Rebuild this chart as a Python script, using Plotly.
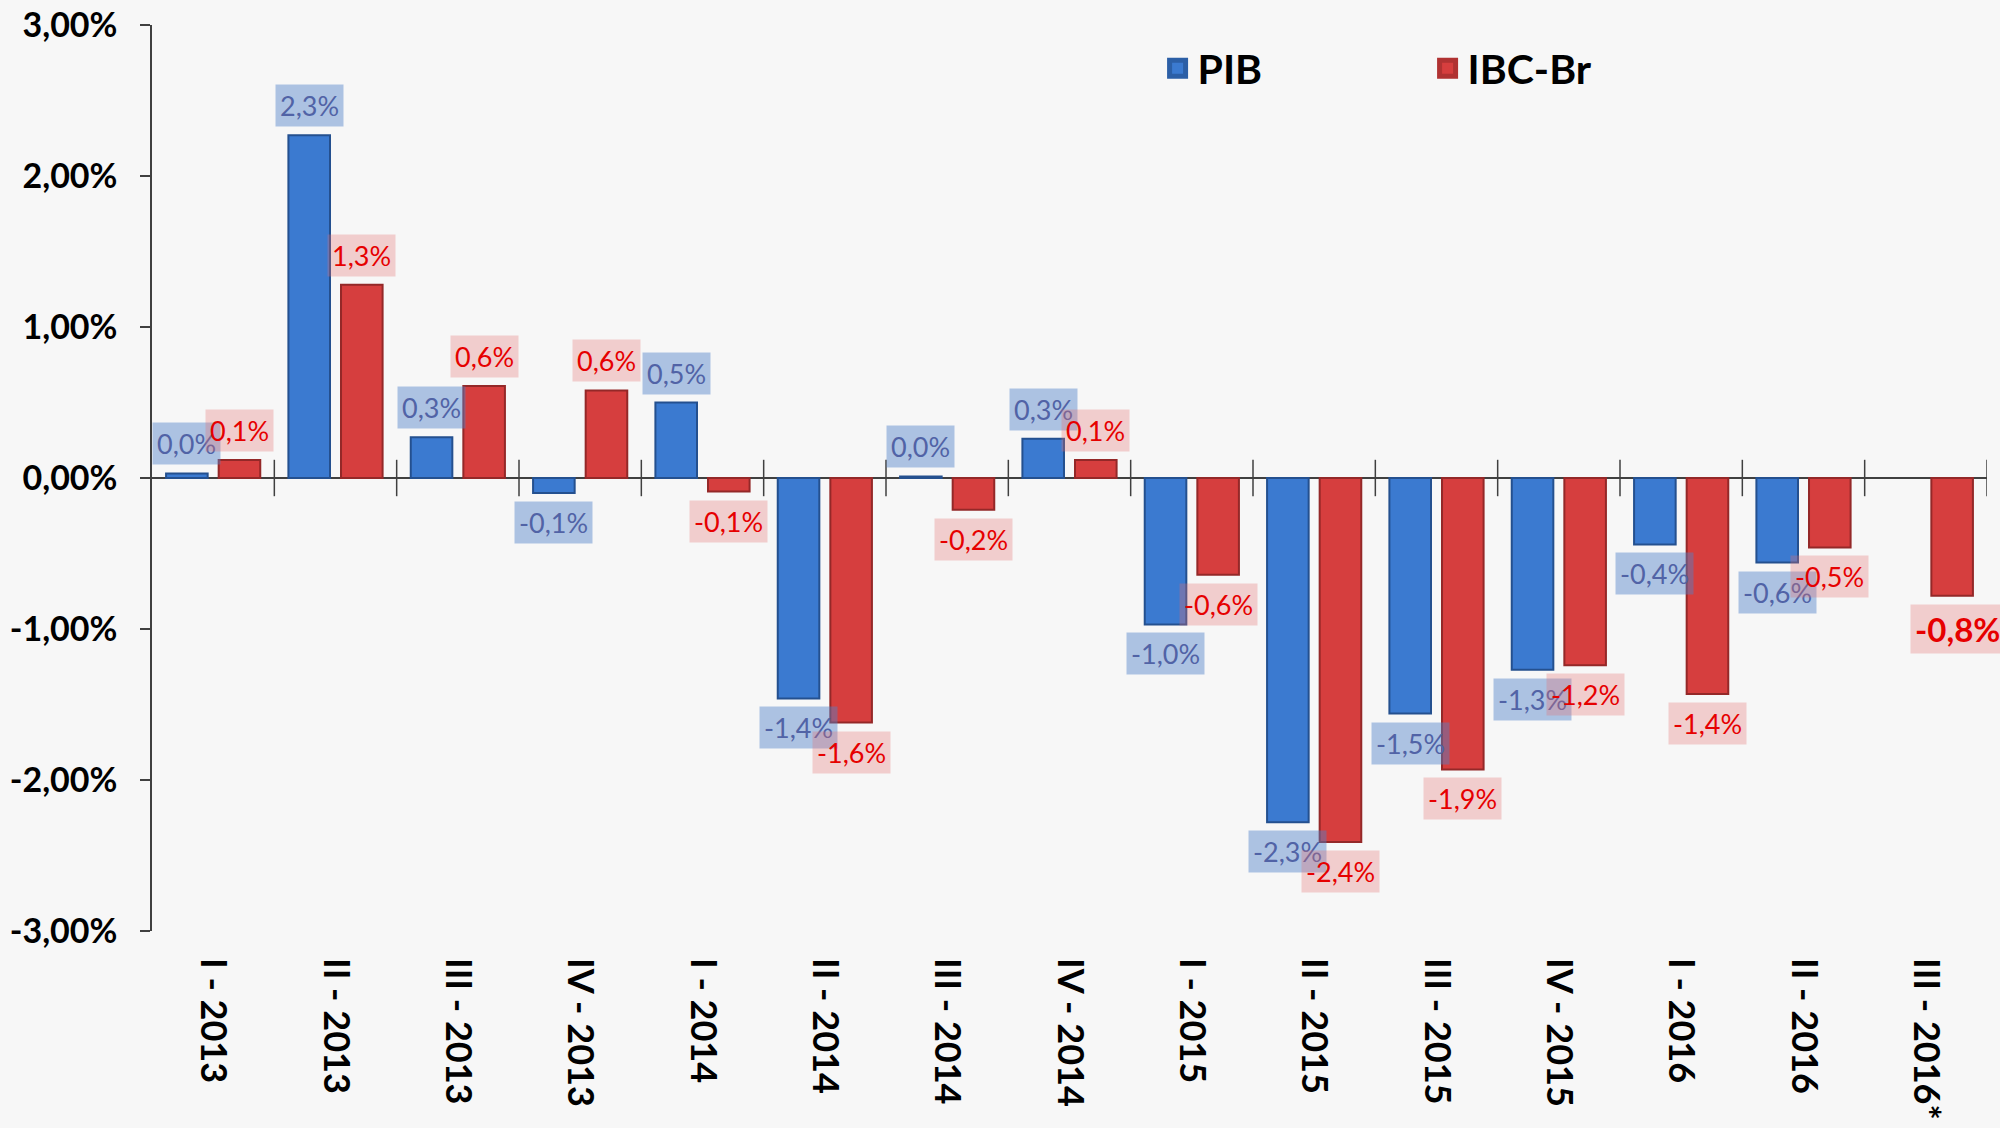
import plotly.graph_objects as go

categories = ["I - 2013", "II - 2013", "III - 2013", "IV - 2013",
              "I - 2014", "II - 2014", "III - 2014", "IV - 2014",
              "I - 2015", "II - 2015", "III - 2015", "IV - 2015",
              "I - 2016", "II - 2016", "III - 2016*"]
pib = [0.03, 2.27, 0.27, -0.10, 0.50, -1.46, 0.01, 0.26,
       -0.97, -2.28, -1.56, -1.27, -0.44, -0.56, None]
ibc = [0.12, 1.28, 0.61, 0.58, -0.09, -1.62, -0.21, 0.12,
       -0.64, -2.41, -1.93, -1.24, -1.43, -0.46, -0.78]
pib_labels = ["0,0%", "2,3%", "0,3%", "-0,1%", "0,5%", "-1,4%", "0,0%", "0,3%",
              "-1,0%", "-2,3%", "-1,5%", "-1,3%", "-0,4%", "-0,6%", None]
ibc_labels = ["0,1%", "1,3%", "0,6%", "0,6%", "-0,1%", "-1,6%", "-0,2%", "0,1%",
              "-0,6%", "-2,4%", "-1,9%", "-1,2%", "-1,4%", "-0,5%", "-0,8%"]
y_ticks = [-3, -2, -1, 0, 1, 2, 3]
y_tick_labels = ["-3,00%", "-2,00%", "-1,00%", "0,00%", "1,00%", "2,00%", "3,00%"]

FONT = "Lato"
BAR_W = 0.34
PIB_OFF = -0.385
IBC_OFF = 0.045
xs = list(range(len(categories)))

fig = go.Figure()

fig.add_trace(go.Bar(
    x=xs, y=pib, offset=PIB_OFF, width=BAR_W, name="PIB", showlegend=False,
    marker=dict(color="#3b7ad0", line=dict(color="#24508f", width=2)),
))
fig.add_trace(go.Bar(
    x=xs, y=ibc, offset=IBC_OFF, width=BAR_W, name="IBC-Br", showlegend=False,
    marker=dict(color="#d63e3e", line=dict(color="#942828", width=2)),
))

# legend entries
fig.add_trace(go.Scatter(
    x=[None], y=[None], mode="markers", name="PIB",
    marker=dict(symbol="square", size=16, color="#3b7ad0",
                line=dict(color="#2c5fa6", width=5)),
))
fig.add_trace(go.Scatter(
    x=[None], y=[None], mode="markers", name="IBC-Br",
    marker=dict(symbol="square", size=16, color="#d63e3e",
                line=dict(color="#b03232", width=5)),
))

# category separator ticks on the zero line
bounds = [i + 0.5 for i in xs]
fig.add_trace(go.Scatter(
    x=bounds, y=[0] * len(bounds), mode="markers", showlegend=False,
    hoverinfo="skip",
    marker=dict(symbol="line-ns-open", size=26, color="#404040",
                line=dict(color="#404040", width=1.5)),
))

annotations = []
def add_labels(vals, labels, off, txtcolor, boxcolor):
    for i, (v, t) in enumerate(zip(vals, labels)):
        if v is None or t is None:
            continue
        big = (i == len(categories) - 1)
        annotations.append(dict(
            x=i + off + BAR_W / 2, y=v, xref="x", yref="y", text=t,
            showarrow=False,
            yanchor="bottom" if v >= 0 else "top",
            yshift=8 if v >= 0 else -8,
            xshift=5 if big else 0,
            font=dict(family=FONT, size=33 if big else 27, color=txtcolor,
                      weight="bold" if big else "normal"),
            bgcolor=boxcolor, borderpad=4,
        ))

add_labels(pib, pib_labels, PIB_OFF, "#5163a6", "rgba(79,129,199,0.45)")
add_labels(ibc, ibc_labels, IBC_OFF, "#e60000", "rgba(230,110,110,0.30)")

fig.update_layout(
    width=2000, height=1128,
    margin=dict(l=152, r=13, t=25, b=197, autoexpand=False),
    paper_bgcolor="#f7f7f7", plot_bgcolor="rgba(0,0,0,0)",
    barmode="overlay",
    annotations=annotations,
    showlegend=True,
    legend=dict(orientation="h", x=0.548, y=0.952, xanchor="left", yanchor="middle",
                font=dict(family=FONT, size=41, color="black", weight="bold"),
                bgcolor="rgba(0,0,0,0)", entrywidth=225, itemwidth=30),
    xaxis=dict(range=[-0.5, len(categories) - 0.5], tickvals=xs, ticktext=categories,
               tickangle=90, showgrid=False, zeroline=False, showline=False,
               ticks="", ticklabelstandoff=26, automargin=False,
               tickfont=dict(family=FONT, size=36, color="black", weight="bold")),
    yaxis=dict(range=[-3, 3], tickvals=y_ticks, ticktext=y_tick_labels,
               showgrid=False, zeroline=True, zerolinecolor="#404040", zerolinewidth=1.5,
               showline=True, linecolor="#404040", linewidth=1.5,
               ticks="outside", ticklen=10, tickcolor="#404040", tickwidth=1.5,
               ticklabelstandoff=16, automargin=False,
               tickfont=dict(family=FONT, size=34, color="black", weight="bold")),
)

fig.write_html("out.html",
               config={"displayModeBar": False},
               post_script="document.body.style.margin='0';"
                           "document.body.style.background='#f7f7f7';")
